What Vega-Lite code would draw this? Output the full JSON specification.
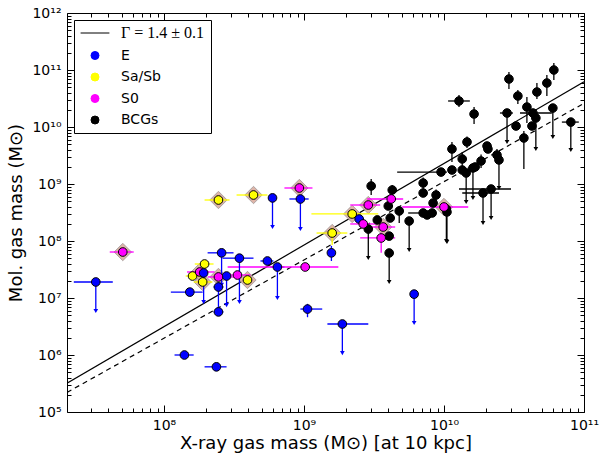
{
  "$schema": "https://vega.github.io/schema/vega-lite/v6.json",
  "width": 517,
  "height": 399,
  "autosize": {"type": "none"},
  "padding": {"left": 67, "top": 13, "right": 15, "bottom": 45},
  "background": "white",
  "config": {
    "view": {"stroke": "black", "strokeWidth": 1},
    "font": "DejaVu Sans",
    "axis": {
      "domain": false, "grid": false, "tickColor": "black", "tickWidth": 1,
      "labelFont": "DejaVu Sans", "labelFontSize": 14, "labelColor": "black", "labelFlush": false,
      "titleFont": "DejaVu Sans", "titleFontSize": 18, "titleFontWeight": "normal", "titleColor": "black"
    },
    "legend": {
      "title": null, "orient": "top-left", "offset": 7,
      "strokeColor": "black", "fillColor": "white", "padding": 6, "cornerRadius": 0,
      "symbolSize": 64, "rowPadding": 7.5, "symbolStrokeColor": "black",
      "labelFont": "DejaVu Sans", "labelFontSize": 14, "labelColor": "black"
    }
  },
  "datasets": {
    "fits": [
      {"name": "fit", "x": 2.03e7, "y": 3.2e5},
      {"name": "fit", "x": 1e11, "y": 6.2e10},
      {"name": "fit_ref", "x": 2.03e7, "y": 2.2e5},
      {"name": "fit_ref", "x": 1e11, "y": 2.6e10}
    ],
    "pts": [
      {"t": "BCGs", "x": 1.28e10, "y": 2.86e10, "xlo": 1.07e10, "xhi": 1.53e10, "ylo": 2.24e10, "yhi": 3.64e10},
      {"t": "BCGs", "x": 1.64e10, "y": 1.69e10, "ylo": 1.13e10, "yhi": 2.24e10},
      {"t": "BCGs", "x": 2.91e10, "y": 6.95e10, "ylo": 4.64e10, "yhi": 9.22e10},
      {"t": "BCGs", "x": 3.37e10, "y": 3.5e10, "ylo": 2.53e10, "yhi": 4.46e10},
      {"t": "BCGs", "x": 4.61e10, "y": 4.11e10, "ylo": 3.1e10, "yhi": 5.91e10},
      {"t": "BCGs", "x": 5.43e10, "y": 5.91e10, "ylo": 3.5e10, "yhi": 8.17e10},
      {"t": "BCGs", "x": 6.09e10, "y": 1.0e11, "ylo": 6.68e10, "yhi": 1.33e11},
      {"t": "BCGs", "x": 3.91e10, "y": 2.24e10, "ylo": 1.17e10, "yhi": 3.36e10},
      {"t": "BCGs", "x": 2.82e10, "y": 1.76e10, "xlo": 2.51e10, "xhi": 3.11e10, "ylo": 5.46e9, "ul": true},
      {"t": "BCGs", "x": 4.32e10, "y": 1.76e10, "xlo": 3.49e10, "xhi": 5.89e10},
      {"t": "BCGs", "x": 4.53e10, "y": 1.44e10, "ylo": 4.11e9, "ul": true},
      {"t": "BCGs", "x": 5.99e10, "y": 2.15e10, "ylo": 6.68e9, "ul": true},
      {"t": "BCGs", "x": 8.05e10, "y": 1.22e10, "xlo": 6.95e10, "xhi": 9.18e10, "ylo": 3.95e9, "ul": true},
      {"t": "BCGs", "x": 3.27e10, "y": 1.04e10},
      {"t": "BCGs", "x": 4.25e10, "y": 1.04e10},
      {"t": "BCGs", "x": 3.72e10, "y": 6.41e9, "ylo": 1.83e9, "yhi": 8.5e9},
      {"t": "BCGs", "x": 1.46e10, "y": 5.46e9, "ylo": 4.3e9, "yhi": 6.8e9},
      {"t": "BCGs", "x": 1.14e10, "y": 4.11e9, "ylo": 2.43e9, "yhi": 5.46e9},
      {"t": "BCGs", "x": 2.03e10, "y": 4.64e9},
      {"t": "BCGs", "x": 2.06e10, "y": 4.11e9},
      {"t": "BCGs", "x": 2.39e10, "y": 3.23e9, "ylo": 2.6e9, "yhi": 4.1e9},
      {"t": "BCGs", "x": 2.47e10, "y": 2.64e9, "ylo": 8.5e8, "ul": true},
      {"t": "BCGs", "x": 1.35e10, "y": 2.75e9, "ylo": 2.0e9, "yhi": 3.6e9},
      {"t": "BCGs", "x": 1.84e10, "y": 2.53e9, "ylo": 1.9e9, "yhi": 3.3e9},
      {"t": "BCGs", "x": 1.14e10, "y": 1.76e9},
      {"t": "BCGs", "x": 1.35e10, "y": 1.76e9},
      {"t": "BCGs", "x": 1.44e10, "y": 1.56e9, "ylo": 4.83e8, "ul": true},
      {"t": "BCGs", "x": 1.61e10, "y": 1.91e9, "ylo": 5.68e8, "ul": true},
      {"t": "BCGs", "x": 1.67e10, "y": 1.99e9},
      {"t": "BCGs", "x": 9.53e9, "y": 1.62e9, "xlo": 4.63e9, "xhi": 1.05e10},
      {"t": "BCGs", "x": 7.1e9, "y": 1.04e9, "ylo": 7.5e8, "yhi": 1.3e9},
      {"t": "BCGs", "x": 7.1e9, "y": 6.95e8},
      {"t": "BCGs", "x": 8.78e9, "y": 6.41e8, "ylo": 5.0e8, "yhi": 8.0e8},
      {"t": "BCGs", "x": 8.36e9, "y": 4.64e8},
      {"t": "BCGs", "x": 1.9e10, "y": 6.95e8, "xlo": 1.35e10, "xhi": 2.47e10, "ylo": 2.07e8, "ul": true},
      {"t": "BCGs", "x": 2.17e10, "y": 8.17e8, "xlo": 1.28e10, "xhi": 3.01e10, "ylo": 2.53e8, "ul": true},
      {"t": "BCGs", "x": 3.02e9, "y": 9.22e8, "ylo": 6.41e8, "yhi": 1.22e9},
      {"t": "BCGs", "x": 4.27e9, "y": 7.85e8, "ylo": 6.2e8, "yhi": 9.6e8},
      {"t": "BCGs", "x": 4.79e9, "y": 3.36e8, "ylo": 2.07e8, "yhi": 4.0e8},
      {"t": "BCGs", "x": 4.0e9, "y": 4.11e8},
      {"t": "BCGs", "x": 5.64e9, "y": 2.24e8, "ylo": 6.95e7, "ul": true},
      {"t": "BCGs", "x": 4.13e9, "y": 2.53e8},
      {"t": "BCGs", "x": 3.34e9, "y": 2.34e8},
      {"t": "BCGs", "x": 2.88e9, "y": 1.62e8, "ylo": 5.03e7, "ul": true},
      {"t": "BCGs", "x": 4.06e9, "y": 1.22e8},
      {"t": "BCGs", "x": 4.06e9, "y": 6.16e7, "ylo": 1.91e7, "ul": true},
      {"t": "BCGs", "x": 7.1e9, "y": 3.1e8, "xlo": 5.55e9, "xhi": 8.36e9},
      {"t": "BCGs", "x": 7.58e9, "y": 2.86e8},
      {"t": "BCGs", "x": 8.23e9, "y": 3.1e8},
      {"t": "BCGs", "x": 1.04e10, "y": 3.64e8, "ylo": 1.0e8, "ul": true},
      {"t": "BCGs", "x": 1.05e10, "y": 3.23e8, "ylo": 9.6e7, "ul": true},
      {"t": "Sa/Sb", "x": 2.45e8, "y": 5.24e8, "xlo": 1.95e8, "xhi": 2.94e8, "hl": true},
      {"t": "Sa/Sb", "x": 4.36e8, "y": 6.41e8, "xlo": 3.3e8, "xhi": 5.48e8, "hl": true},
      {"t": "Sa/Sb", "x": 1.95e8, "y": 3.95e7, "xlo": 1.66e8, "xhi": 2.26e8},
      {"t": "Sa/Sb", "x": 1.6e8, "y": 2.43e7, "xlo": 1.43e8, "xhi": 1.83e8},
      {"t": "Sa/Sb", "x": 1.89e8, "y": 1.91e7, "xlo": 1.63e8, "xhi": 2.22e8, "hl": true},
      {"t": "Sa/Sb", "x": 3.95e8, "y": 2.07e7, "hl": true},
      {"t": "Sa/Sb", "x": 1.59e9, "y": 1.38e8, "xlo": 1.23e9, "xhi": 2.04e9, "ylo": 8.5e7, "yhi": 1.7e8, "hl": true},
      {"t": "Sa/Sb", "x": 2.21e9, "y": 2.98e8, "xlo": 1.13e9, "xhi": 3.39e9, "hl": true},
      {"t": "S0", "x": 1.8e8, "y": 2.86e7, "xlo": 1.46e8, "xhi": 2.3e8, "hl": true},
      {"t": "E", "x": 3.26e7, "y": 1.91e7, "xlo": 2.27e7, "xhi": 4.31e7, "ylo": 5.9e6, "ul": true},
      {"t": "E", "x": 1.4e8, "y": 1.0e6, "xlo": 1.19e8, "xhi": 1.63e8},
      {"t": "E", "x": 2.37e8, "y": 6.2e5, "xlo": 1.95e8, "xhi": 2.8e8},
      {"t": "E", "x": 1.53e8, "y": 1.27e7, "xlo": 1.12e8, "xhi": 1.89e8},
      {"t": "E", "x": 2.58e8, "y": 6.2e7, "xlo": 2.05e8, "xhi": 3.14e8, "ylo": 1.7e7, "ul": true},
      {"t": "E", "x": 3.46e8, "y": 5.0e7, "xlo": 2.62e8, "xhi": 4.36e8, "ylo": 8.5e6, "ul": true},
      {"t": "E", "x": 5.48e8, "y": 4.46e7, "xlo": 4.89e8, "xhi": 6.05e8},
      {"t": "E", "x": 6.46e8, "y": 3.5e7, "xlo": 5.76e8, "xhi": 7.25e8, "ylo": 1.0e7, "ul": true},
      {"t": "E", "x": 2.8e8, "y": 2.43e7, "ylo": 7.5e6, "ul": true},
      {"t": "E", "x": 2.45e8, "y": 1.56e7, "xlo": 2.26e8, "xhi": 2.66e8, "ylo": 5.7e6, "yhi": 1.9e7},
      {"t": "E", "x": 2.45e8, "y": 5.7e6, "xlo": 2.26e8, "xhi": 2.66e8},
      {"t": "E", "x": 1.92e8, "y": 2.75e7, "ylo": 8.5e6, "ul": true},
      {"t": "E", "x": 5.96e8, "y": 5.7e8, "ylo": 1.76e8, "ul": true},
      {"t": "E", "x": 9.43e8, "y": 5.46e8, "xlo": 7.87e8, "xhi": 1.08e9, "ylo": 1.62e8, "ul": true},
      {"t": "E", "x": 1.06e9, "y": 6.4e6, "xlo": 9.43e8, "xhi": 1.35e9, "ylo": 4.6e6, "yhi": 7.9e6},
      {"t": "E", "x": 1.88e9, "y": 3.5e6, "xlo": 1.47e9, "xhi": 2.88e9, "ylo": 1.08e6, "ul": true},
      {"t": "E", "x": 6.12e9, "y": 1.17e7, "ylo": 3.64e6, "ul": true},
      {"t": "E", "x": 1.57e9, "y": 6.2e7, "ylo": 4.46e7, "yhi": 8.2e7},
      {"t": "E", "x": 2.48e9, "y": 2.43e8},
      {"t": "S0", "x": 5.08e7, "y": 6.41e7, "xlo": 4.1e7, "xhi": 6.08e7, "ylo": 5.5e7, "yhi": 7.5e7, "hl": true},
      {"t": "S0", "x": 9.27e8, "y": 8.51e8, "xlo": 7.25e8, "xhi": 1.15e9, "hl": true},
      {"t": "S0", "x": 2.45e8, "y": 2.34e7, "xlo": 2.05e8, "xhi": 3.35e8, "hl": true},
      {"t": "S0", "x": 3.35e8, "y": 2.53e7, "xlo": 2.54e8, "xhi": 4.15e8},
      {"t": "S0", "x": 1.02e9, "y": 3.5e7, "xlo": 2.85e8, "xhi": 1.76e9},
      {"t": "S0", "x": 2.88e9, "y": 4.28e8, "xlo": 2.14e9, "xhi": 3.5e9, "hl": true},
      {"t": "S0", "x": 4.2e9, "y": 5.46e8, "xlo": 2.83e9, "xhi": 5.11e9},
      {"t": "S0", "x": 2.65e9, "y": 1.99e8, "xlo": 2.14e9, "xhi": 3.34e9},
      {"t": "S0", "x": 3.68e9, "y": 1.76e8, "xlo": 2.88e9, "xhi": 4.48e9, "hl": true},
      {"t": "S0", "x": 3.56e9, "y": 1.13e8, "xlo": 2.52e9, "xhi": 4.48e9, "ylo": 6.2e7, "yhi": 1.4e8},
      {"t": "S0", "x": 1.0e10, "y": 3.95e8, "xlo": 5.03e9, "xhi": 1.49e10, "hl": true}
    ]
  },
  "layer": [
    {
      "data": {"name": "fits"},
      "transform": [{"filter": "datum.name === 'fit'"}],
      "mark": {"type": "line", "color": "black", "strokeWidth": 1.2, "clip": true},
      "encoding": {
        "x": {"field": "x", "type": "quantitative",
          "scale": {"type": "log", "domain": [2.03e7, 1e11], "nice": false},
          "axis": {"orient": "bottom", "values": [1e8, 1e9, 1e10, 1e11], "tickSize": -7, "labelPadding": 13,
            "labelExpr": "'10' + ['⁰','¹','²','³','⁴','⁵','⁶','⁷','⁸','⁹','¹⁰','¹¹','¹²'][round(log(datum.value)/LN10)]",
            "title": "X-ray gas mass (M⊙) [at 10 kpc]", "titlePadding": 2}},
        "y": {"field": "y", "type": "quantitative",
          "scale": {"type": "log", "domain": [1e5, 1e12], "nice": false},
          "axis": {"orient": "left", "values": [1e5, 1e6, 1e7, 1e8, 1e9, 1e10, 1e11, 1e12], "tickSize": -7, "labelPadding": 13,
            "labelExpr": "'10' + ['⁰','¹','²','³','⁴','⁵','⁶','⁷','⁸','⁹','¹⁰','¹¹','¹²'][round(log(datum.value)/LN10)]",
            "title": "Mol. gas mass (M⊙)", "titlePadding": 6}}
      }
    },
    {
      "data": {"name": "fits"},
      "transform": [{"filter": "datum.name === 'fit_ref'"}],
      "mark": {"type": "line", "color": "black", "strokeWidth": 1.2, "strokeDash": [5, 4], "clip": true},
      "encoding": {
        "x": {"field": "x", "type": "quantitative",
          "scale": {"type": "log", "domain": [2.03e7, 1e11], "nice": false},
          "axis": {"orient": "top", "values": [1e8, 1e9, 1e10, 1e11], "tickSize": -7, "labels": false, "title": null}},
        "y": {"field": "y", "type": "quantitative",
          "scale": {"type": "log", "domain": [1e5, 1e12], "nice": false},
          "axis": {"orient": "right", "values": [1e5, 1e6, 1e7, 1e8, 1e9, 1e10, 1e11, 1e12], "tickSize": -7, "labels": false, "title": null}}
      }
    },
    {
      "data": {"name": "pts"},
      "transform": [{"filter": "datum.hl === true"}],
      "mark": {"type": "point", "shape": "diamond", "filled": true, "size": 300, "fill": "#dcae9f", "stroke": "#a39a9a", "strokeWidth": 1, "opacity": 0.9},
      "encoding": {
        "x": {"field": "x", "type": "quantitative",
          "scale": {"type": "log", "domain": [2.03e7, 1e11], "nice": false},
          "axis": {"orient": "bottom", "tickSize": -4, "labels": false, "title": null,
            "values": [3e7, 4e7, 5e7, 6e7, 7e7, 8e7, 9e7, 2e8, 3e8, 4e8, 5e8, 6e8, 7e8, 8e8, 9e8, 2e9, 3e9, 4e9, 5e9, 6e9, 7e9, 8e9, 9e9, 2e10, 3e10, 4e10, 5e10, 6e10, 7e10, 8e10, 9e10]}},
        "y": {"field": "y", "type": "quantitative",
          "scale": {"type": "log", "domain": [1e5, 1e12], "nice": false},
          "axis": {"orient": "left", "tickSize": -4, "labels": false, "title": null,
            "values": [2e5, 3e5, 4e5, 5e5, 6e5, 7e5, 8e5, 9e5, 2e6, 3e6, 4e6, 5e6, 6e6, 7e6, 8e6, 9e6, 2e7, 3e7, 4e7, 5e7, 6e7, 7e7, 8e7, 9e7, 2e8, 3e8, 4e8, 5e8, 6e8, 7e8, 8e8, 9e8, 2e9, 3e9, 4e9, 5e9, 6e9, 7e9, 8e9, 9e9, 2e10, 3e10, 4e10, 5e10, 6e10, 7e10, 8e10, 9e10, 2e11, 3e11, 4e11, 5e11, 6e11, 7e11, 8e11, 9e11]}}
      }
    },
    {
      "data": {"name": "pts"},
      "transform": [{"filter": "isValid(datum.xlo)"}],
      "mark": {"type": "rule", "strokeWidth": 1.3},
      "encoding": {
        "x": {"field": "xlo", "type": "quantitative",
          "scale": {"type": "log", "domain": [2.03e7, 1e11], "nice": false},
          "axis": {"orient": "top", "tickSize": -4, "labels": false, "title": null,
            "values": [3e7, 4e7, 5e7, 6e7, 7e7, 8e7, 9e7, 2e8, 3e8, 4e8, 5e8, 6e8, 7e8, 8e8, 9e8, 2e9, 3e9, 4e9, 5e9, 6e9, 7e9, 8e9, 9e9, 2e10, 3e10, 4e10, 5e10, 6e10, 7e10, 8e10, 9e10]}},
        "x2": {"field": "xhi"},
        "y": {"field": "y", "type": "quantitative",
          "scale": {"type": "log", "domain": [1e5, 1e12], "nice": false},
          "axis": {"orient": "right", "tickSize": -4, "labels": false, "title": null,
            "values": [2e5, 3e5, 4e5, 5e5, 6e5, 7e5, 8e5, 9e5, 2e6, 3e6, 4e6, 5e6, 6e6, 7e6, 8e6, 9e6, 2e7, 3e7, 4e7, 5e7, 6e7, 7e7, 8e7, 9e7, 2e8, 3e8, 4e8, 5e8, 6e8, 7e8, 8e8, 9e8, 2e9, 3e9, 4e9, 5e9, 6e9, 7e9, 8e9, 9e9, 2e10, 3e10, 4e10, 5e10, 6e10, 7e10, 8e10, 9e10, 2e11, 3e11, 4e11, 5e11, 6e11, 7e11, 8e11, 9e11]}},
        "color": {"field": "t", "type": "nominal",
          "scale": {"domain": ["Γ = 1.4 ± 0.1", "E", "Sa/Sb", "S0", "BCGs"], "range": ["#000000", "#0000ff", "#ffff00", "#ff00ff", "#000000"]},
          "legend": {
            "title": null,
            "encode": {
              "symbols": {"update": {
                "x": {"value": 15},
                "shape": {"signal": "datum.value === 'Γ = 1.4 ± 0.1' ? 'M-3.6,0L3.6,0' : 'circle'"},
                "fill": {"signal": "datum.value === 'Γ = 1.4 ± 0.1' ? 'transparent' : scale('color', datum.value)"},
                "stroke": {"value": "black"},
                "strokeWidth": {"value": 1},
                "opacity": {"value": 1}
              }},
              "labels": {"update": {
                "x": {"value": 41},
                "font": {"signal": "datum.value === 'Γ = 1.4 ± 0.1' ? 'Liberation Serif' : 'DejaVu Sans'"},
                "fontSize": {"signal": "datum.value === 'Γ = 1.4 ± 0.1' ? 16 : 14"}
              }}
            }
          }}
      }
    },
    {
      "data": {"name": "pts"},
      "transform": [{"filter": "isValid(datum.yhi)"}],
      "mark": {"type": "rule", "strokeWidth": 1.3},
      "encoding": {
        "x": {"field": "x", "type": "quantitative", "scale": {"type": "log", "domain": [2.03e7, 1e11], "nice": false}, "axis": null},
        "y": {"field": "ylo", "type": "quantitative", "scale": {"type": "log", "domain": [1e5, 1e12], "nice": false}, "axis": null},
        "y2": {"field": "yhi"},
        "color": {"field": "t", "type": "nominal",
          "scale": {"domain": ["Γ = 1.4 ± 0.1", "E", "Sa/Sb", "S0", "BCGs"], "range": ["#000000", "#0000ff", "#ffff00", "#ff00ff", "#000000"]}}
      }
    },
    {
      "data": {"name": "pts"},
      "transform": [{"filter": "datum.ul === true"}],
      "mark": {"type": "rule", "strokeWidth": 1.3},
      "encoding": {
        "x": {"field": "x", "type": "quantitative", "scale": {"type": "log", "domain": [2.03e7, 1e11], "nice": false}, "axis": null},
        "y": {"field": "y", "type": "quantitative", "scale": {"type": "log", "domain": [1e5, 1e12], "nice": false}, "axis": null},
        "y2": {"field": "ylo"},
        "color": {"field": "t", "type": "nominal",
          "scale": {"domain": ["Γ = 1.4 ± 0.1", "E", "Sa/Sb", "S0", "BCGs"], "range": ["#000000", "#0000ff", "#ffff00", "#ff00ff", "#000000"]}}
      }
    },
    {
      "data": {"name": "pts"},
      "transform": [{"filter": "datum.ul === true"}],
      "mark": {"type": "point", "shape": "triangle-down", "filled": true, "size": 22, "opacity": 1},
      "encoding": {
        "x": {"field": "x", "type": "quantitative", "scale": {"type": "log", "domain": [2.03e7, 1e11], "nice": false}, "axis": null},
        "y": {"field": "ylo", "type": "quantitative", "scale": {"type": "log", "domain": [1e5, 1e12], "nice": false}, "axis": null},
        "color": {"field": "t", "type": "nominal",
          "scale": {"domain": ["Γ = 1.4 ± 0.1", "E", "Sa/Sb", "S0", "BCGs"], "range": ["#000000", "#0000ff", "#ffff00", "#ff00ff", "#000000"]}}
      }
    },
    {
      "data": {"name": "pts"},
      "mark": {"type": "point", "shape": "circle", "filled": true, "size": 75, "stroke": "black", "strokeWidth": 1, "opacity": 1},
      "encoding": {
        "x": {"field": "x", "type": "quantitative", "scale": {"type": "log", "domain": [2.03e7, 1e11], "nice": false}, "axis": null},
        "y": {"field": "y", "type": "quantitative", "scale": {"type": "log", "domain": [1e5, 1e12], "nice": false}, "axis": null},
        "color": {"field": "t", "type": "nominal",
          "scale": {"domain": ["Γ = 1.4 ± 0.1", "E", "Sa/Sb", "S0", "BCGs"], "range": ["#000000", "#0000ff", "#ffff00", "#ff00ff", "#000000"]}}
      }
    }
  ],
  "resolve": {"axis": {"x": "independent", "y": "independent"}}
}
